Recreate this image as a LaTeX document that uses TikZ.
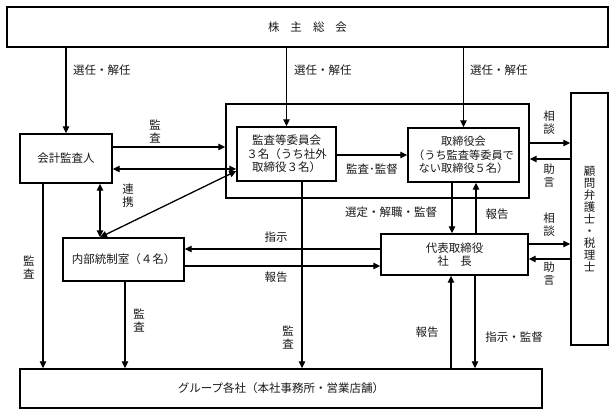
\documentclass[tikz,border=0pt]{standalone}
\usepackage{fontspec}
\newfontfamily\jp{Noto Sans CJK JP}
\usetikzlibrary{arrows.meta}
\begin{document}
\begin{tikzpicture}[x=1pt,y=-1pt,
  every node/.style={font=\jp\fontsize{11.5}{13.5}\selectfont, text=black!90, inner sep=0pt},
  box/.style={draw=black, line width=1.4pt, align=center},
  arr/.style={line width=1.3pt, -{Triangle[length=7pt,width=6.5pt]}},
  darr/.style={line width=1.3pt, {Triangle[length=7pt,width=6.5pt]}-{Triangle[length=7pt,width=6.5pt]}},
  vlbl/.style={align=center, font=\jp\fontsize{11.5}{13}\selectfont}]
\useasboundingbox (0,0) rectangle (616,416);
% boxes
\node[box, minimum width=601pt, minimum height=40pt] (top) at (307.5,27) {株\hspace{11pt}主\hspace{11pt}総\hspace{11pt}会};
\node[box, minimum width=92pt, minimum height=49pt] (kaikei) at (66,158.5) {会計監査人};
\node[draw=black, line width=1.4pt, minimum width=303pt, minimum height=94pt] (outer) at (377.5,151) {};
\node[box, minimum width=99pt, minimum height=54pt] (kansa) at (286.5,154) {監査等委員会\\３名（うち社外\\取締役３名）};
\node[box, minimum width=111pt, minimum height=54pt, font=\jp\fontsize{11.2}{13.5}\selectfont] (board) at (463.5,155) {取締役会\\（うち監査等委員で\\ない取締役５名）};
\node[box, minimum width=37pt, minimum height=252pt, font=\jp\fontsize{11.5}{11.9}\selectfont] (komon) at (589.5,219) {顧\\問\\弁\\護\\士\\・\\税\\理\\士};
\node[box, minimum width=121pt, minimum height=43pt] (naibu) at (123.5,259.5) {内部統制室（４名）};
\node[box, minimum width=147pt, minimum height=41pt] (daihyo) at (454.5,254.5) {代表取締役\\社　長};
\node[box, minimum width=522pt, minimum height=39pt] (group) at (281,388.5) {グループ各社（本社事務所・営業店舗）};
% from shareholders
\draw[arr] (top.south -| kaikei.north) -- (kaikei.north);
\draw[arr] (top.south -| kansa.north) -- (kansa.north);
\draw[arr] (top.south -| board.north) -- (board.north);
\node[anchor=west] at (73,70) {選任・解任};
\node[anchor=west] at (294,70) {選任・解任};
\node[anchor=west] at (470,70) {選任・解任};
% auditor
\draw[arr] (kaikei.east |- 0,147) -- (outer.west |- 0,147);
\node[vlbl] at (155,131.5) {監\\査};
\draw[darr] (kaikei.east |- 0,169) -- (kansa.west |- 0,169);
\draw[darr] (naibu.north -| 100,0) -- (kansa.west |- 0,171);
\draw[darr] (kaikei.south -| 100,0) -- (naibu.north -| 100,0);
\node[vlbl] at (128,196) {連\\携};
\draw[arr] (kaikei.south -| 43,0) -- (group.north -| 43,0);
\node[vlbl] at (29,267.5) {監\\査};
% internal control
\draw[arr] (naibu.south -| 125,0) -- (group.north -| 125,0);
\node[vlbl] at (139,320.5) {監\\査};
% committee
\draw[arr] (kansa.south -| 302,0) -- (group.north -| 302,0);
\node[vlbl] at (288,337.5) {監\\査};
\draw[arr] (kansa.east |- 0,155) -- (board.west |- 0,155);
\node at (372,169) {監査･監督};
% board - president
\draw[arr] (board.south -| 452,0) -- (daihyo.north -| 452,0);
\node at (391,212) {選定・解職・監督};
\draw[arr] (daihyo.north -| 476,0) -- (board.south -| 476,0);
\node at (497,214) {報告};
% president - internal control
\draw[arr] (daihyo.west |- 0,249) -- (naibu.east |- 0,249);
\node at (276,237) {指示};
\draw[arr] (naibu.east |- 0,266) -- (daihyo.west |- 0,266);
\node at (276,277) {報告};
% advisors
\draw[arr] (outer.east |- 0,143) -- (komon.west |- 0,143);
\node[vlbl] at (549,122.5) {相\\談};
\draw[arr] (komon.west |- 0,159) -- (outer.east |- 0,159);
\node[vlbl] at (549,176) {助\\言};
\draw[arr] (daihyo.east |- 0,244) -- (komon.west |- 0,244);
\node[vlbl] at (549,225) {相\\談};
\draw[arr] (komon.west |- 0,259) -- (daihyo.east |- 0,259);
\node[vlbl] at (549,274) {助\\言};
% president - group
\draw[arr] (group.north -| 451,0) -- (daihyo.south -| 451,0);
\node at (427,332) {報告};
\draw[arr] (daihyo.south -| 475,0) -- (group.north -| 475,0);
\node at (514,337) {指示・監督};
\end{tikzpicture}
\end{document}
